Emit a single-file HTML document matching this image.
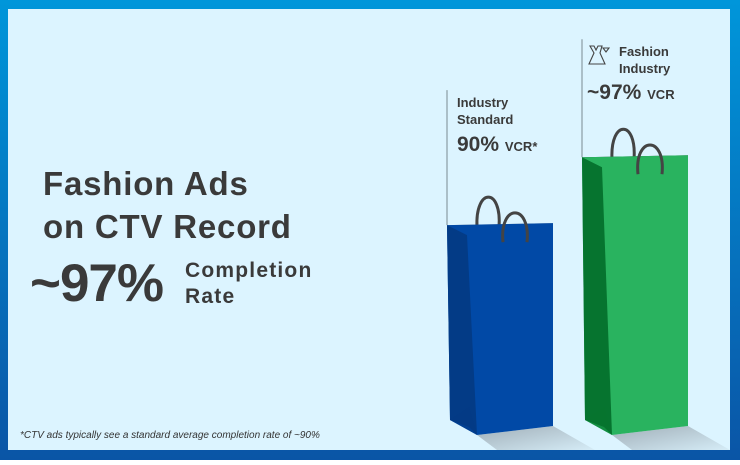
<!DOCTYPE html>
<html><head><meta charset="utf-8"><style>
body{margin:0;width:740px;height:460px;overflow:hidden;font-family:"Liberation Sans",sans-serif}
</style></head><body>
<svg width="740" height="460" xmlns="http://www.w3.org/2000/svg">
<defs>
<linearGradient id="fr" x1="0" y1="0" x2="0" y2="1"><stop offset="0" stop-color="#0096da"/><stop offset="1" stop-color="#0a55a6"/></linearGradient>
<linearGradient id="sh" x1="0" y1="0" x2="1" y2="1"><stop offset="0" stop-color="#9aa7b0" stop-opacity=".9"/><stop offset="1" stop-color="#9aa7b0" stop-opacity="0.1"/></linearGradient>
</defs>
<rect width="740" height="460" fill="url(#fr)"/>
<rect x="8" y="9" width="722" height="441" fill="#dcf4ff"/>
<g fill="#3a3a3a" font-weight="bold">
<text x="43" y="195" font-size="33" letter-spacing="0.8">Fashion Ads</text>
<text x="43" y="238" font-size="33" letter-spacing="0.8">on CTV Record</text>
<text x="30" y="301" font-size="53" letter-spacing="-1">~97%</text>
<text x="185" y="277" font-size="21" letter-spacing="1.2">Completion</text>
<text x="185" y="303" font-size="21" letter-spacing="1.2">Rate</text>
</g>
<text x="20" y="438" font-size="10" font-style="italic" fill="#333">*CTV ads typically see a standard average completion rate of ~90%</text>
<g id="bags"></g>
</svg>
<script>
const categories=["Industry Standard","Fashion Industry"];
const values=[90,97];
const valueLabels=["90%","~97%"];
const suffixes=["VCR*","VCR"];
const NS="http://www.w3.org/2000/svg";
const g=document.getElementById('bags');
const base=432, k=68.7, s=9.71;
function yScale(v){return base-(v-k)*s;}
const xs=[447,582], w=106;
const cols=[["#0149a6","#033b86","#9e9e9e"],["#29b35f","#06742f","#3b3b3b"]];
function el(t,a,p){const e=document.createElementNS(NS,t);for(const q in a)e.setAttribute(q,a[q]);(p||g).appendChild(e);return e;}
values.forEach((v,i)=>{
 const x=xs[i], top=yScale(v);
 const grp=el('g',{});
 
 
 el('polygon',{points:`${x+30},${base+3} ${x+w},${base-6} ${x+w+42},${base+18} ${x+50},${base+18}`,fill:'url(#sh)'},grp);
 const ln=el('line',{x1:x,y1:top-(i?118:135),x2:x,y2:top,stroke:'#7a8a92','stroke-width':1},grp);
 
 
 el('polygon',{points:`${x},${top} ${x+w},${top-2} ${x+w},${top+3} ${x+25},${top+12}`,fill:cols[i][2]},grp);
 el('path',{d:`M${x+30},${top+2} C${x+28},${top-38} ${x+55},${top-38} ${x+52},${top+2}`,fill:'none',stroke:'#444','stroke-width':3},grp);
 el('polygon',{points:`${x},${top} ${x+w},${top-2} ${x+w},${base-6} ${x+30},${base+3} ${x+3},${base-12}`,fill:cols[i][0]},grp);
 el('polygon',{points:`${x},${top} ${x+20},${top+10} ${x+30},${base+3} ${x+22},${base-5} ${x+3},${base-12}`,fill:cols[i][1]},grp);
 el('polygon',{points:`${x+3},${base-12} ${x+30},${base+3} ${x+22},${base-25}`,fill:cols[i][1],opacity:0.6},grp);
 el('path',{d:`M${x+56},${top+17} C${x+52},${top-22} ${x+84},${top-22} ${x+80},${top+17}`,fill:'none',stroke:'#444','stroke-width':3},grp);
 const lx=i?x+5:x+10, ly=top-(i?101:118);
 const n=categories[i].split(' ');
 [n[0],n[1]].forEach((t,j)=>{const tt=el('text',{x:i?lx+32:lx,y:ly+j*17,'font-size':13,'font-weight':'bold',fill:'#3a3a3a'},grp);tt.textContent=t;
  });
 const vt=el('text',{x:lx,y:ly+(i?43:44),'font-size':21,'font-weight':'bold',fill:'#3a3a3a'},grp);
 
 
 vt.textContent=valueLabels[i]+' ';
 const sp=el('tspan',{'font-size':13},vt);sp.textContent=suffixes[i];
});
// dress icon
const ic=el('path',{d:'M590,46 l4,0 l2,4 l2,-4 l4,0 l-2,7 l5,11 l-16,0 l5,-11z M603,48 l6,0 l-3,4z',fill:'none',stroke:'#444','stroke-width':1.1});


</script>
</body></html>
